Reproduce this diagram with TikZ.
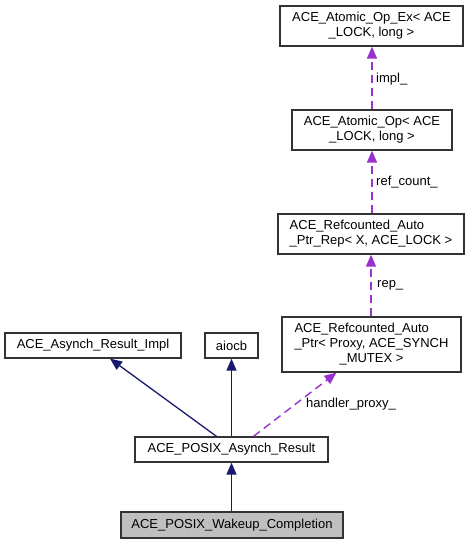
\documentclass[tikz,border=0pt]{standalone}
\usepackage{fontspec}
\setmainfont{Liberation Sans}
\usetikzlibrary{arrows.meta}
\definecolor{inh}{HTML}{191970}
\definecolor{use}{HTML}{9A32CD}
\definecolor{boxc}{HTML}{333333}
\definecolor{fillg}{HTML}{BFBFBF}
\begin{document}
\begin{tikzpicture}[x=1pt,y=-1pt,
  every node/.style={font=\fontsize{13}{15}\selectfont},
  cls/.style={draw=boxc,line width=1.3pt,inner sep=0pt,fill=white},
  inhedge/.style={draw=inh,line width=1.3pt,-{Triangle[length=12pt,width=10pt]}},
  useedge/.style={draw=use,line width=1.4pt,dash pattern=on 8pt off 5pt,-{Triangle[length=12pt,width=10pt]}},
  lbl/.style={anchor=west,inner sep=0pt}]
\useasboundingbox[fill=white] (0,0) rectangle (471,544);
\node[cls,minimum width=183pt,minimum height=40pt] (atomex) at (371.5,26) {\begin{tabular}{@{}c@{}}ACE\_Atomic\_Op\_Ex< ACE\\\_LOCK, long >\end{tabular}};
\node[cls,minimum width=160pt,minimum height=40pt] (atomop) at (372,130) {\begin{tabular}{@{}c@{}}ACE\_Atomic\_Op< ACE\\\_LOCK, long >\end{tabular}};
\node[cls,minimum width=186pt,minimum height=40pt] (rep) at (371,234) {\begin{tabular}{@{}l@{}}ACE\_Refcounted\_Auto\\\_Ptr\_Rep< X, ACE\_LOCK >\end{tabular}};
\node[cls,minimum width=179pt,minimum height=55pt] (ptr) at (371.5,344.5) {\begin{tabular}{@{}l@{}}ACE\_Refcounted\_Auto\\\_Ptr< Proxy, ACE\_SYNCH\\\multicolumn{1}{@{}c@{}}{\_MUTEX >}\end{tabular}};
\node[cls,minimum width=176pt,minimum height=25pt] (impl) at (93,345.5) {ACE\_Asynch\_Result\_Impl};
\node[cls,minimum width=53pt,minimum height=25pt] (aiocb) at (231.5,345.5) {aiocb};
\node[cls,minimum width=193pt,minimum height=25pt] (asynch) at (231.5,449.5) {ACE\_POSIX\_Asynch\_Result};
\node[cls,fill=fillg,minimum width=222pt,minimum height=26pt] (wakeup) at (232,525) {ACE\_POSIX\_Wakeup\_Completion};
% edges
\draw[useedge] (atomop.north) -- (atomop.north |- atomex.south);
\node[lbl] (limpl) at (376,79) {impl\_};
\draw[useedge] (rep.north -| atomop.north) -- (atomop.south);
\node[lbl] (lref) at (376,182) {ref\_count\_};
\draw[useedge] (ptr.north -| rep.south) -- (rep.south);
\node[lbl] (lrep) at (377,285) {rep\_};
\draw[useedge] ([xshift=22pt]asynch.north) -- ([xshift=-35pt]ptr.south);
\node[lbl] (lhp) at (306,404) {handler\_proxy\_};
\draw[inhedge] ([xshift=-15pt]asynch.north) -- ([xshift=17pt]impl.south);
\draw[inhedge] (asynch.north -| aiocb.south) -- (aiocb.south);
\draw[inhedge] (wakeup.north -| asynch.south) -- (asynch.south);
\end{tikzpicture}
\end{document}
